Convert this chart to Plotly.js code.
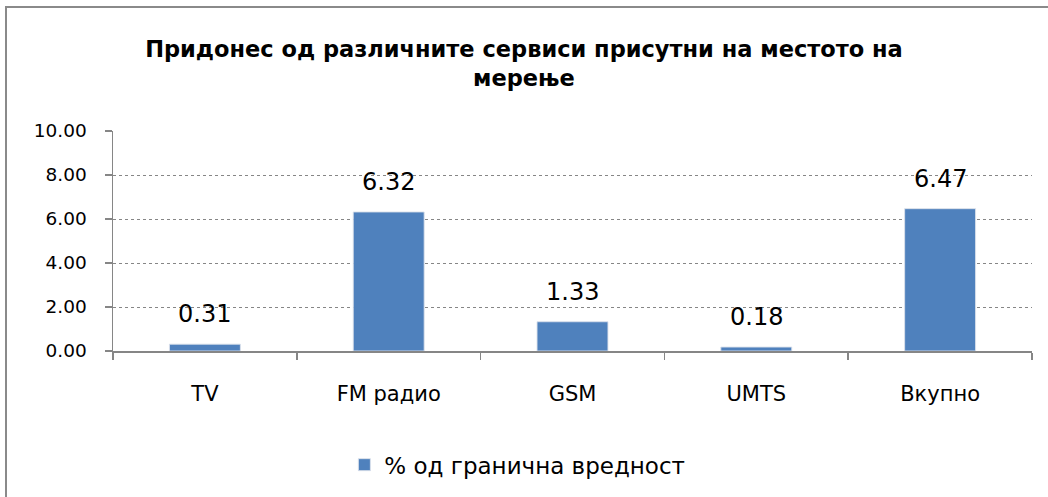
<!DOCTYPE html>
<html>
<head>
<meta charset="utf-8">
<script src="https://cdn.plot.ly/plotly-3.0.1.min.js"></script>
<style>
  html, body { margin: 0; padding: 0; background: #ffffff; overflow: hidden; }
  #wrap { position: relative; width: 1048px; height: 497px; }
  #chart { position: absolute; left: 0; top: 0; width: 1048px; height: 497px; }
  #frame { position: absolute; left: 5px; top: 6px; width: 1100px; height: 600px;
           border-left: 2px solid #8a8a8a; border-top: 2px solid #8a8a8a; pointer-events: none; }
</style>
</head>
<body>
<div id="wrap">
  <div id="chart"></div>
  <div id="frame"></div>
</div>
<script>
const categories = ["TV", "FM радио", "GSM", "UMTS", "Вкупно"];
const values = [0.31, 6.32, 1.33, 0.18, 6.47];
const seriesName = "% од гранична вредност";
const titleText = "Придонес од различните сервиси присутни на местото на<br>мерење";
const yTicks = [0, 2, 4, 6, 8, 10];

const FONT = "DejaVu Sans, Noto Sans, sans-serif";
const barColor = "#4f81bd";
const axisGray = "#868686";

const trace = {
  type: "bar",
  x: categories,
  y: values,
  name: seriesName,
  marker: { color: barColor, line: { color: "rgba(220,225,235,0.9)", width: 1 } },
  showlegend: true,
  hoverinfo: "x+y"
};

const annotations = categories.map((c, i) => ({
  x: c, y: values[i], xref: "x", yref: "y",
  text: values[i].toFixed(2),
  showarrow: false, yanchor: "middle", yshift: 30,
  font: { family: FONT, size: 24, color: "#000000" }
}));

const layout = {
  width: 1048, height: 497,
  margin: { l: 113, r: 16, t: 131, b: 145, pad: 0 },
  paper_bgcolor: "#ffffff", plot_bgcolor: "#ffffff",
  font: { family: FONT, color: "#000000" },
  title: {
    text: titleText,
    font: { family: FONT, size: 22.5, color: "#000000", weight: "bold" },
    x: 0.5, xanchor: "center", xref: "container",
    y: 0.886, yanchor: "middle", yref: "container"
  },
  bargap: 0.614,
  xaxis: {
    type: "category",
    showline: true, linecolor: axisGray, linewidth: 1.5,
    ticks: "outside", tickson: "boundaries", ticklen: 7, tickcolor: axisGray, tickwidth: 1.5,
    ticklabelstandoff: 23,
    tickfont: { family: FONT, size: 21, color: "#000000" },
    showgrid: false, zeroline: false, fixedrange: true
  },
  yaxis: {
    range: [0, 10], tickvals: yTicks, tickformat: ".2f",
    showline: true, linecolor: axisGray, linewidth: 1.5,
    ticks: "outside", ticklen: 7, tickcolor: axisGray, tickwidth: 1.5,
    ticklabelstandoff: 14,
    tickfont: { family: FONT, size: 18.5, color: "#000000" },
    showgrid: true, gridcolor: axisGray, gridwidth: 1, griddash: "dot",
    zeroline: false, fixedrange: true
  },
  legend: {
    orientation: "h", x: 0.44, xanchor: "center", xref: "paper",
    y: -0.51, yanchor: "middle",
    font: { family: FONT, size: 23, color: "#000000" },
    itemwidth: 30, bgcolor: "rgba(0,0,0,0)"
  },
  annotations: annotations
};

Plotly.newPlot("chart", [trace], layout, { displayModeBar: false, staticPlot: true });
</script>
</body>
</html>
